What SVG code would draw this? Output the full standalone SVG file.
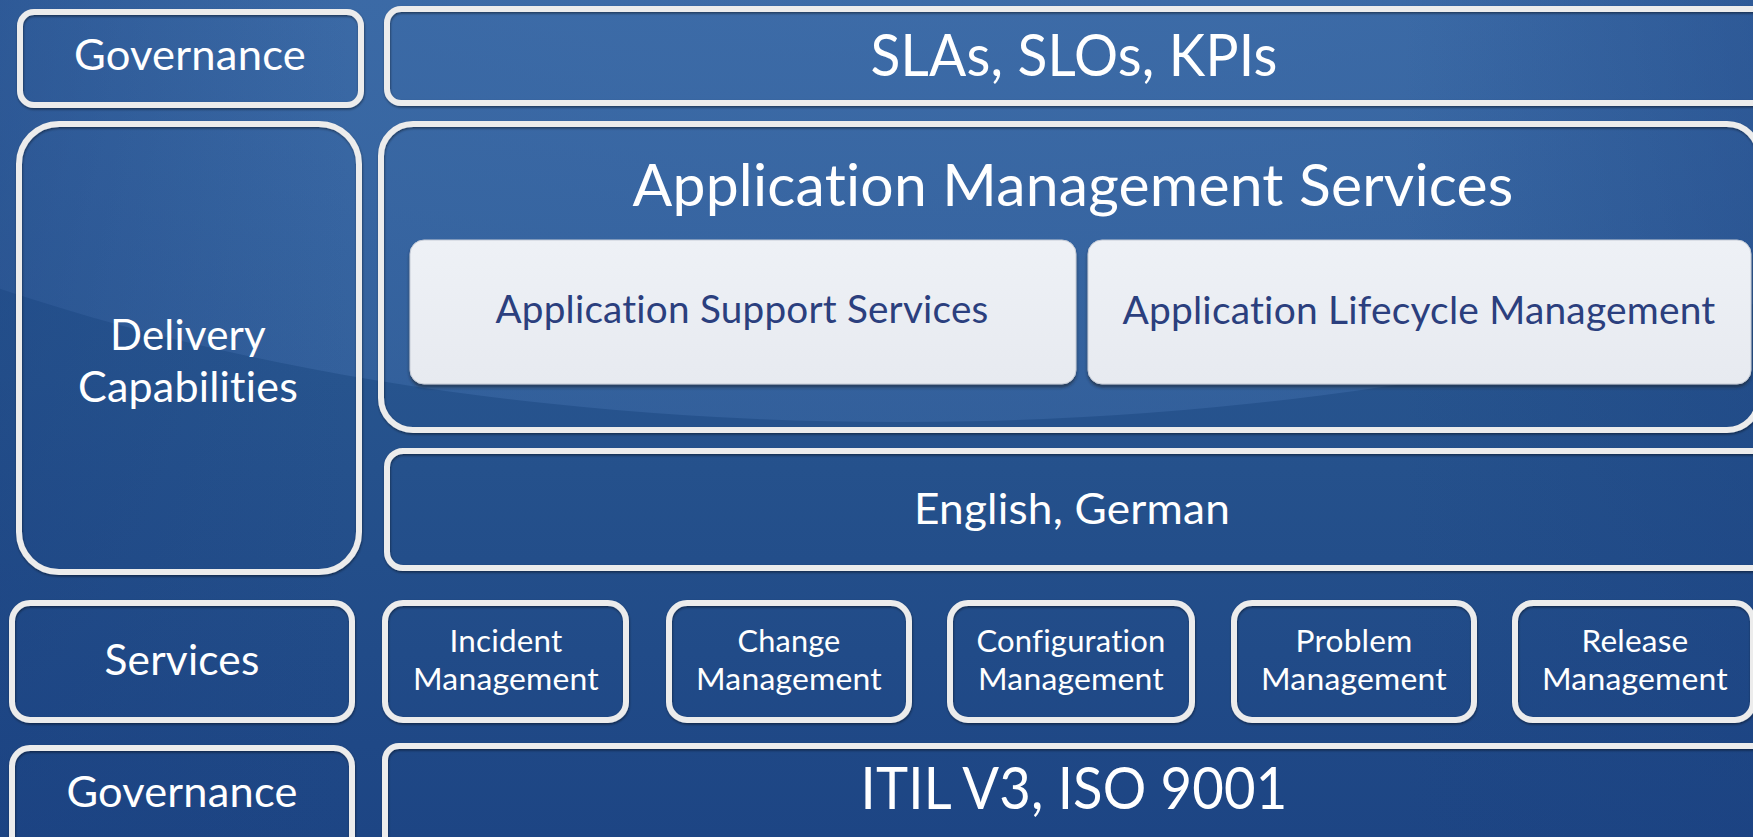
<svg xmlns="http://www.w3.org/2000/svg" width="1753" height="837" viewBox="0 0 1753 837">
  <defs>
    <linearGradient id="bg" x1="0" y1="0" x2="0" y2="1">
      <stop offset="0" stop-color="#2C5C97"/>
      <stop offset="0.45" stop-color="#27548E"/>
      <stop offset="1" stop-color="#1D4584"/>
    </linearGradient>
    <linearGradient id="bgH" x1="0" y1="0" x2="1" y2="0">
      <stop offset="0" stop-color="#1A4080" stop-opacity="0.35"/>
      <stop offset="0.2" stop-color="#1A4080" stop-opacity="0"/>
      <stop offset="0.8" stop-color="#1A4080" stop-opacity="0"/>
      <stop offset="1" stop-color="#1A4080" stop-opacity="0.35"/>
    </linearGradient>
    <radialGradient id="glow" cx="0.5" cy="0.45" r="0.6">
      <stop offset="0" stop-color="#4A78B4" stop-opacity="0.75"/>
      <stop offset="0.7" stop-color="#406EAB" stop-opacity="0.6"/>
      <stop offset="1" stop-color="#3D6AA7" stop-opacity="0.5"/>
    </radialGradient>
    <linearGradient id="light" x1="0" y1="0" x2="0" y2="1">
      <stop offset="0" stop-color="#EEF1F6"/>
      <stop offset="1" stop-color="#E7EAF0"/>
    </linearGradient>
    <filter id="emb" x="-5%" y="-5%" width="110%" height="115%">
      <feDropShadow dx="0.5" dy="1.5" stdDeviation="0.8" flood-color="#000" flood-opacity="0.45"/>
    </filter>
    <filter id="shd" x="-5%" y="-5%" width="110%" height="120%">
      <feDropShadow dx="0" dy="3" stdDeviation="1.5" flood-color="#202830" flood-opacity="0.6"/>
    </filter>
    <style>
      .frame { fill: none; stroke: #ECECEC; stroke-width: 6; filter: url(#emb); }
      .lbox { fill: url(#light); stroke: #C5CBD6; stroke-width: 1; filter: url(#shd); }
      .t, .d { font-family: Lato, "Open Sans", "Liberation Sans", sans-serif; text-anchor: middle; font-variant-ligatures: none; font-feature-settings: "liga" 0, "clig" 0, "dlig" 0, "calt" 0; letter-spacing: 0.2px; }
      .t { fill: #FFFFFF; }
      .d { fill: #2B3F7E; }
      .big { font-size: 58px; }
      .mid { font-size: 42.5px; }
      .sup { font-size: 38.5px; }
      .sm { font-size: 31px; }
    </style>
  </defs>

  <!-- background -->
  <rect x="0" y="0" width="1753" height="837" fill="url(#bg)"/>
  <ellipse cx="900" cy="-200" rx="1455" ry="622" fill="url(#glow)"/>
  <rect x="0" y="0" width="1753" height="837" fill="url(#bgH)"/>

  <g id="gov-top">
    <rect class="frame" x="20" y="12" width="341" height="93" rx="14"/>
    <text class="t mid" x="190" y="70" textLength="232" lengthAdjust="spacingAndGlyphs">Governance</text>
  </g>
  <g id="slas">
    <rect class="frame" x="387" y="9" width="1390" height="94" rx="14"/>
    <text class="t big" x="1074" y="76" textLength="407" lengthAdjust="spacingAndGlyphs">SLAs, SLOs, KPIs</text>
  </g>
  <g id="delivery">
    <rect class="frame" x="19" y="124" width="340" height="448" rx="40"/>
    <text class="t mid" x="188" y="350" textLength="156" lengthAdjust="spacingAndGlyphs">Delivery</text>
    <text class="t mid" x="188" y="402" textLength="220" lengthAdjust="spacingAndGlyphs">Capabilities</text>
  </g>
  <g id="ams">
    <rect class="frame" x="381" y="124" width="1378" height="306" rx="32"/>
    <text class="t big" x="1073" y="206" textLength="881" lengthAdjust="spacingAndGlyphs">Application Management Services</text>
  </g>
  <g id="support">
    <rect class="lbox" x="410" y="240" width="666" height="144" rx="14"/>
    <text class="d sup" x="742" y="323" textLength="493" lengthAdjust="spacingAndGlyphs">Application Support Services</text>
  </g>
  <g id="lifecycle">
    <rect class="lbox" x="1088" y="240" width="663" height="144" rx="14"/>
    <text class="d sup" x="1419" y="324" textLength="593" lengthAdjust="spacingAndGlyphs">Application Lifecycle Management</text>
  </g>
  <g id="languages">
    <rect class="frame" x="387" y="451" width="1390" height="117" rx="16"/>
    <text class="t mid" x="1072" y="524" textLength="316" lengthAdjust="spacingAndGlyphs">English, German</text>
  </g>
  <g id="services">
    <rect class="frame" x="12" y="603" width="340" height="117" rx="18"/>
    <text class="t mid" x="182" y="675" textLength="155" lengthAdjust="spacingAndGlyphs">Services</text>
  </g>
  <g id="incident">
    <rect class="frame" x="385" y="603" width="241" height="117" rx="18"/>
    <text class="t sm" x="506" y="652" textLength="113" lengthAdjust="spacingAndGlyphs">Incident</text>
    <text class="t sm" x="506" y="690" textLength="186" lengthAdjust="spacingAndGlyphs">Management</text>
  </g>
  <g id="change">
    <rect class="frame" x="669" y="603" width="240" height="117" rx="18"/>
    <text class="t sm" x="789" y="652" textLength="103" lengthAdjust="spacingAndGlyphs">Change</text>
    <text class="t sm" x="789" y="690" textLength="186" lengthAdjust="spacingAndGlyphs">Management</text>
  </g>
  <g id="configuration">
    <rect class="frame" x="950" y="603" width="242" height="117" rx="18"/>
    <text class="t sm" x="1071" y="652" textLength="189" lengthAdjust="spacingAndGlyphs">Configuration</text>
    <text class="t sm" x="1071" y="690" textLength="186" lengthAdjust="spacingAndGlyphs">Management</text>
  </g>
  <g id="problem">
    <rect class="frame" x="1234" y="603" width="240" height="117" rx="18"/>
    <text class="t sm" x="1354" y="652" textLength="117" lengthAdjust="spacingAndGlyphs">Problem</text>
    <text class="t sm" x="1354" y="690" textLength="186" lengthAdjust="spacingAndGlyphs">Management</text>
  </g>
  <g id="release">
    <rect class="frame" x="1515" y="603" width="238" height="117" rx="18"/>
    <text class="t sm" x="1635" y="652" textLength="107" lengthAdjust="spacingAndGlyphs">Release</text>
    <text class="t sm" x="1635" y="690" textLength="186" lengthAdjust="spacingAndGlyphs">Management</text>
  </g>
  <g id="gov-bottom">
    <rect class="frame" x="12" y="748" width="340" height="110" rx="18"/>
    <text class="t mid" x="182" y="807" textLength="231" lengthAdjust="spacingAndGlyphs">Governance</text>
  </g>
  <g id="itil">
    <rect class="frame" x="385" y="746" width="1390" height="110" rx="14"/>
    <text class="t big" x="1074" y="809" textLength="427" lengthAdjust="spacingAndGlyphs">ITIL V3, ISO 9001</text>
  </g>
  <g id="connectors"/>
</svg>
